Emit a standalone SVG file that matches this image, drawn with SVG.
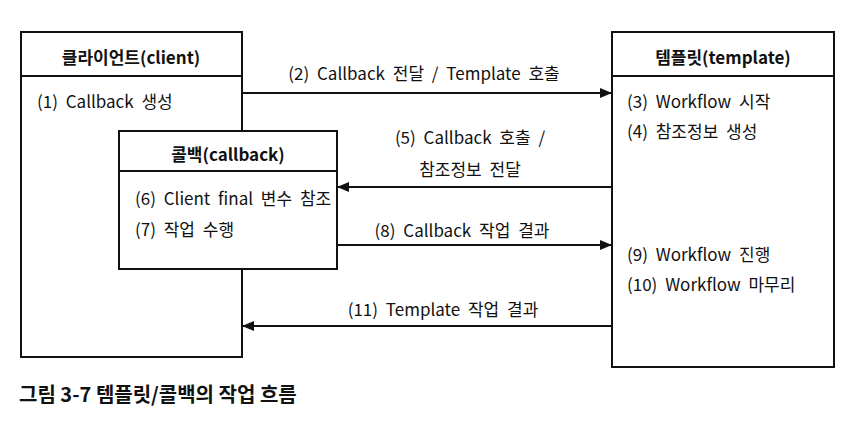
<svg xmlns="http://www.w3.org/2000/svg" width="863" height="424" viewBox="0 0 863 424">
<defs>
<style>
.box{fill:#fff;stroke:#111;stroke-width:2}
.div{stroke:#111;stroke-width:2}
.hd{font-family:"Noto Sans CJK KR","Noto Sans",sans-serif;font-size:17px;font-weight:bold;fill:#111;text-anchor:middle}
.tx{font-family:"Noto Sans CJK KR","Noto Sans",sans-serif;font-size:17px;fill:#111;word-spacing:4px}
.lb{font-family:"Noto Sans CJK KR","Noto Sans",sans-serif;font-size:17px;fill:#111;text-anchor:middle;word-spacing:4px}
.cap{font-family:"Noto Sans CJK KR","Noto Sans",sans-serif;font-size:20px;font-weight:bold;fill:#111}
.ln{stroke:#111;stroke-width:2;fill:none;marker-end:url(#ah)}
</style>
<marker id="ah" markerWidth="12" markerHeight="10" refX="11" refY="5" orient="auto" markerUnits="userSpaceOnUse">
<path d="M0,0 L12,5 L0,10 z" fill="#111"/>
</marker>
</defs>
<rect width="863" height="424" fill="#fff"/>
<g id="client">
<rect class="box" x="21" y="32" width="221" height="325"/>
<line class="div" x1="21" y1="76" x2="242" y2="76"/>
<text class="hd" x="131" y="64">클라이언트(client)</text>
<text class="tx" x="37" y="108">(1) Callback 생성</text>
</g>
<g id="template">
<rect class="box" x="612" y="32" width="222" height="335"/>
<line class="div" x1="612" y1="76" x2="834" y2="76"/>
<text class="hd" x="723" y="64">템플릿(template)</text>
<text class="tx" x="627" y="108">(3) Workflow 시작</text>
<text class="tx" x="627" y="138">(4) 참조정보 생성</text>
<text class="tx" x="627" y="261">(9) Workflow 진행</text>
<text class="tx" x="627" y="291">(10) Workflow 마무리</text>
</g>
<g id="callback">
<rect class="box" x="119" y="131" width="218" height="138"/>
<line class="div" x1="119" y1="171" x2="337" y2="171"/>
<text class="hd" x="228" y="161">콜백(callback)</text>
<text class="tx" x="135" y="205">(6) Client final 변수 참조</text>
<text class="tx" x="135" y="236">(7) 작업 수행</text>
</g>
<g id="connectors">
<line class="ln" x1="243" y1="93" x2="611" y2="93"/>
<text class="lb" x="424" y="80">(2) Callback 전달 / Template 호출</text>
<line class="ln" x1="611" y1="187" x2="338" y2="187"/>
<text class="lb" x="470" y="144">(5) Callback 호출 /</text>
<text class="lb" x="470" y="176">참조정보 전달</text>
<line class="ln" x1="338" y1="245" x2="611" y2="245"/>
<text class="lb" x="462" y="237">(8) Callback 작업 결과</text>
<line class="ln" x1="611" y1="326" x2="243" y2="326"/>
<text class="lb" x="443" y="316">(11) Template 작업 결과</text>
</g>
<text class="cap" x="19" y="402">그림 3-7 템플릿/콜백의 작업 흐름</text>
</svg>
